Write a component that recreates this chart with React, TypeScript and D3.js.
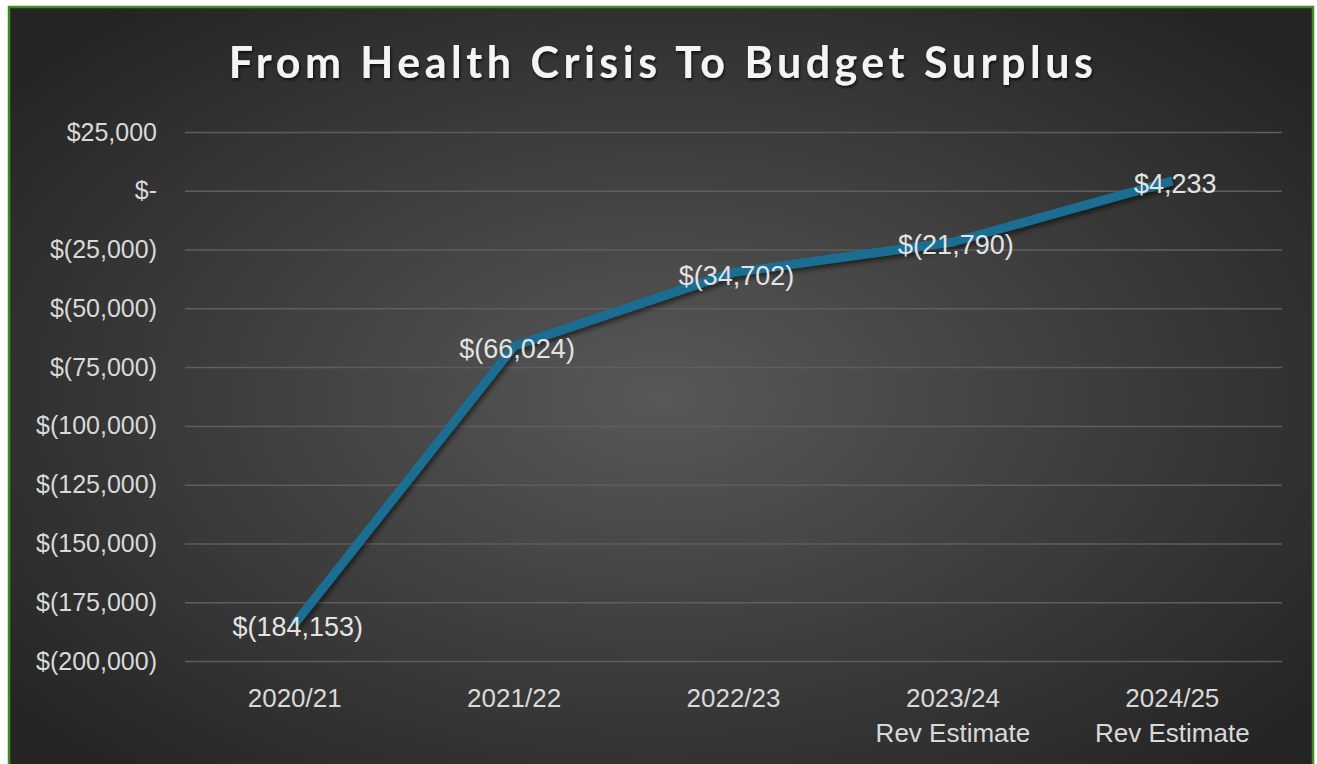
import { useRef, useEffect } from 'react';
import * as d3 from 'd3';

const categories = ['2020/21', '2021/22', '2022/23', '2023/24', '2024/25'];
const subLabels = ['', '', '', 'Rev Estimate', 'Rev Estimate'];
const balances = [-184153, -66024, -34702, -21790, 4233];
const yTicks = [25000, 0, -25000, -50000, -75000, -100000, -125000, -150000, -175000, -200000];

const width = 1317;
const height = 764;

const fmtMoney = (v: number) => {
  if (v === 0) return '$-';
  const s = d3.format(',.0f')(Math.abs(v));
  return v < 0 ? `$(${s})` : `$${s}`;
};

const labelFont = '"Liberation Sans", Arial, sans-serif';

export default function App() {
  const svgRef = useRef<SVGSVGElement>(null);

  useEffect(() => {
    if (!svgRef.current) return;
    const svg = d3.select(svgRef.current);
    svg.selectAll('*').remove();

    const margin = { top: 132, left: 185 };
    const w = 1282 - margin.left;
    const h = 661 - margin.top;

    const defs = svg.append('defs');
    const bg = defs.append('radialGradient')
      .attr('id', 'bg-grad')
      .attr('cx', '50%').attr('cy', '50%').attr('r', '65%');
    bg.append('stop').attr('offset', '0%').attr('stop-color', '#585858');
    bg.append('stop').attr('offset', '100%').attr('stop-color', '#242424');

    const shadow = defs.append('filter').attr('id', 'line-shadow')
      .attr('x', '-10%').attr('y', '-10%').attr('width', '120%').attr('height', '120%');
    shadow.append('feDropShadow')
      .attr('dx', 2).attr('dy', 3).attr('stdDeviation', 2.5)
      .attr('flood-color', '#000').attr('flood-opacity', 0.55);

    const tshadow = defs.append('filter').attr('id', 'title-shadow')
      .attr('x', '-5%').attr('y', '-20%').attr('width', '110%').attr('height', '150%');
    tshadow.append('feDropShadow')
      .attr('dx', 1).attr('dy', 2).attr('stdDeviation', 1.5)
      .attr('flood-color', '#000').attr('flood-opacity', 0.7);

    svg.attr('width', width).attr('height', height);

    svg.append('rect').attr('width', width).attr('height', height).attr('fill', '#fff');
    svg.append('rect')
      .attr('x', 9).attr('y', 7)
      .attr('width', 1304).attr('height', 780)
      .attr('fill', 'url(#bg-grad)')
      .attr('stroke', '#3d8a27')
      .attr('stroke-width', 2.5);

    // Title
    svg.append('text')
      .attr('x', 663)
      .attr('y', 78)
      .attr('text-anchor', 'middle')
      .attr('font-family', 'Lato, "Open Sans", sans-serif')
      .attr('font-weight', 700)
      .attr('font-size', 43)
      .attr('letter-spacing', 4.5)
      .attr('fill', '#f4f4f4')
      .attr('filter', 'url(#title-shadow)')
      .text('From Health Crisis To Budget Surplus');

    const g = svg.append('g').attr('transform', `translate(${margin.left},${margin.top})`);

    const xScale = d3.scaleBand<string>().domain(categories).range([0, w]);
    const yScale = d3.scaleLinear().domain([-200000, 25000]).range([h, 0]);

    // Grid
    g.append('g')
      .call(d3.axisLeft(yScale).tickValues(yTicks).tickSize(-w).tickFormat(() => ''))
      .call((s) => s.select('.domain').remove())
      .selectAll('line')
      .attr('stroke', '#5e5e5e')
      .attr('stroke-width', 1.5);

    // Y axis labels
    g.append('g')
      .attr('transform', 'translate(-25,0)')
      .call(d3.axisLeft(yScale).tickValues(yTicks).tickSize(0).tickFormat((d) => fmtMoney(d as number)))
      .call((s) => s.select('.domain').remove())
      .selectAll('text')
      .attr('font-family', labelFont)
      .attr('font-size', 25)
      .attr('fill', '#d9d9d9');

    // X axis labels
    const xAxis = g.append('g')
      .attr('transform', `translate(0,${h})`)
      .call(d3.axisBottom(xScale).tickSize(0).tickPadding(28))
      .call((s) => s.select('.domain').remove());
    xAxis.selectAll('text')
      .attr('font-family', labelFont)
      .attr('font-size', 26)
      .attr('fill', '#d9d9d9');
    xAxis.selectAll<SVGGElement, string>('.tick')
      .append('text')
      .attr('y', 81)
      .attr('text-anchor', 'middle')
      .attr('font-family', labelFont)
      .attr('font-size', 26)
      .attr('fill', '#d9d9d9')
      .text((d) => subLabels[categories.indexOf(d)]);

    const xPos = (i: number) => (xScale(categories[i]) ?? 0) + xScale.bandwidth() / 2;

    // Line
    const line = d3.line<number>()
      .x((_, i) => xPos(i))
      .y((d) => yScale(d));

    g.append('path')
      .datum(balances)
      .attr('fill', 'none')
      .attr('stroke', '#1a6d92')
      .attr('stroke-width', 9)
      .attr('stroke-linejoin', 'round')
      .attr('filter', 'url(#line-shadow)')
      .attr('d', line);

    // Data labels
    g.selectAll('.data-label')
      .data(balances)
      .join('text')
      .attr('class', 'data-label')
      .attr('x', (_, i) => xPos(i) + 3)
      .attr('y', (d) => yScale(d) + 3)
      .attr('dy', '0.35em')
      .attr('text-anchor', 'middle')
      .attr('font-family', labelFont)
      .attr('font-size', 27)
      .attr('fill', '#e3e3e3')
      .text((d) => fmtMoney(d));
  }, []);

  return (
    <svg
      ref={svgRef}
      style={{ position: 'absolute', left: 0, top: 0, display: 'block' }}
    />
  );
}
